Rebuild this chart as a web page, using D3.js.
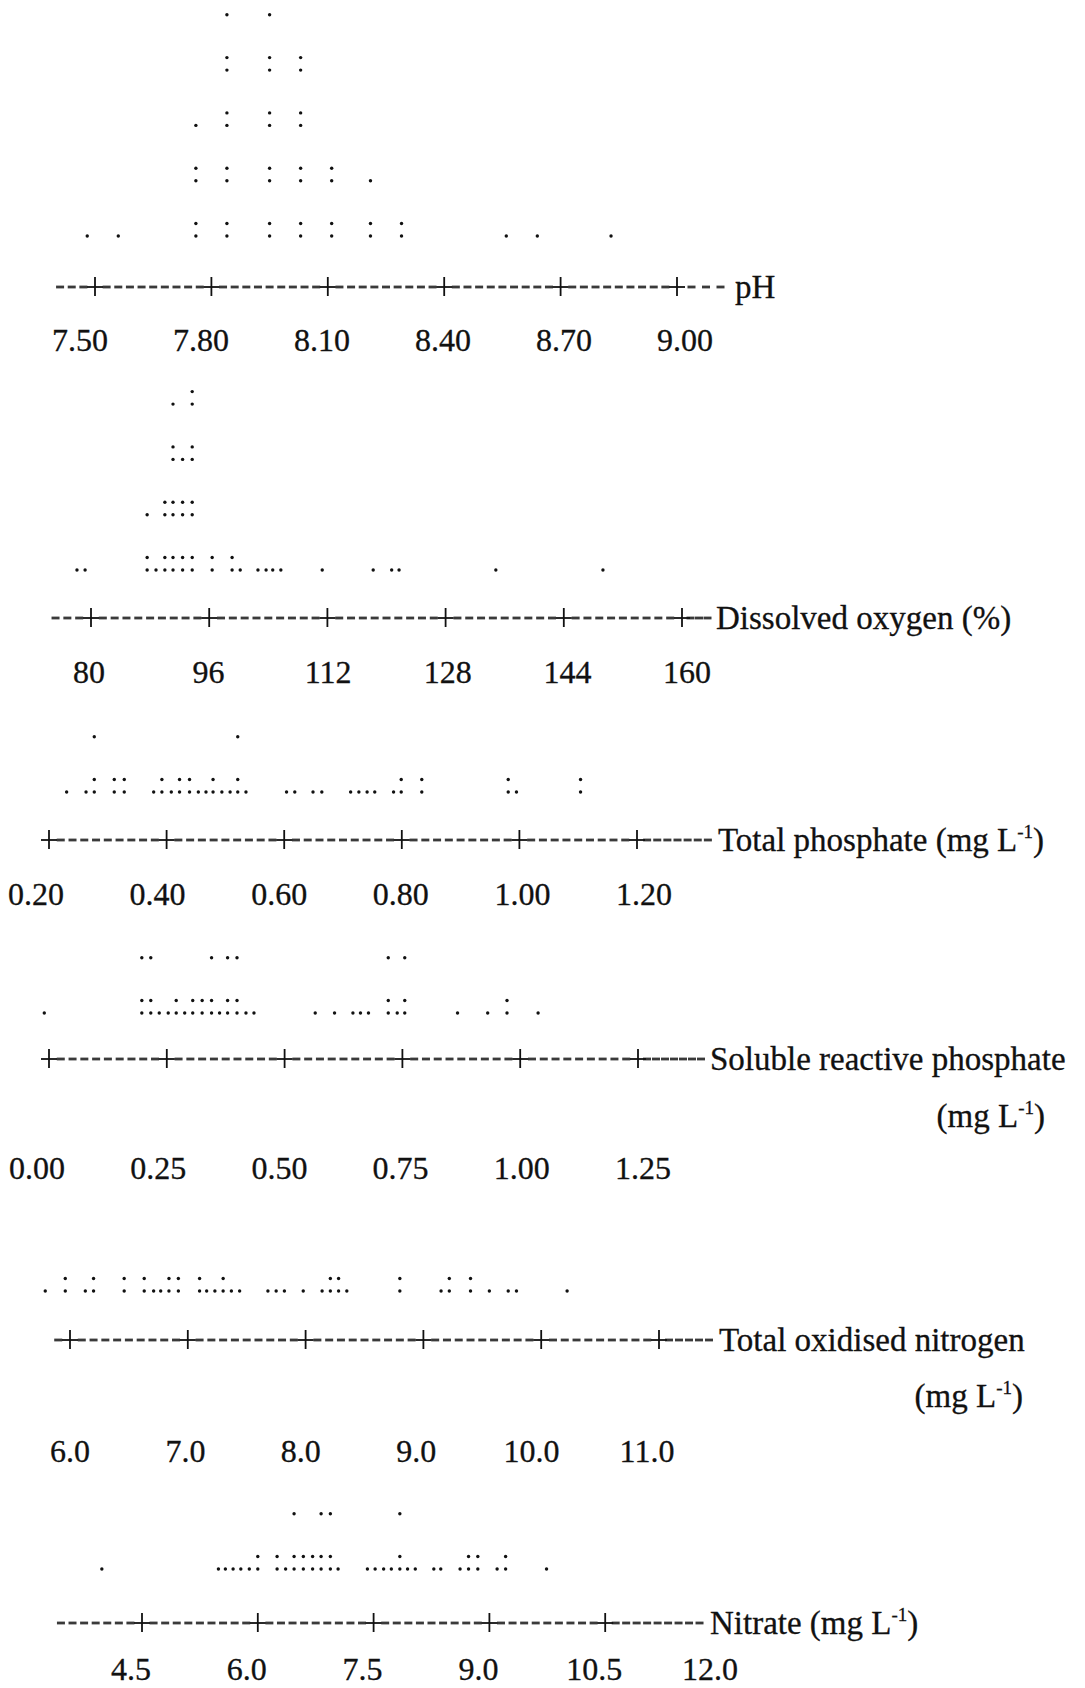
<!DOCTYPE html>
<html><head><meta charset="utf-8">
<script src="https://cdn.jsdelivr.net/npm/d3@7"></script>
<style>body{margin:0;background:#fff}svg{display:block}</style>
</head><body>
<svg id="chart" width="1085" height="1688"></svg>
<script>
// ---------------- data (column value -> number of observations) ----------------
const phTicks = [7.5, 7.8, 8.1, 8.4, 8.7, 9.0];
const phTickLabels = ["7.50", "7.80", "8.10", "8.40", "8.70", "9.00"];
const phValues = [7.48, 7.56, 7.76, 7.84, 7.95, 8.03, 8.11, 8.21, 8.29, 8.56, 8.64, 8.83];
const phCounts = [1, 1, 5, 9, 9, 8, 4, 3, 2, 1, 1, 1];

const doTicks = [80, 96, 112, 128, 144, 160];
const doTickLabels = ["80", "96", "112", "128", "144", "160"];
const doValues = [78.1, 79.2, 87.6, 88.8, 90.0, 91.1, 92.4, 93.7, 96.4, 99.1, 100.2, 102.6, 103.7, 104.6, 105.7, 111.3, 118.2, 120.7, 121.7, 134.8, 149.3];
const doCounts = [1, 1, 3, 1, 4, 7, 5, 8, 2, 2, 1, 1, 1, 1, 1, 1, 1, 1, 1, 1, 1];

const tpTicks = [0.2, 0.4, 0.6, 0.8, 1.0, 1.2];
const tpTickLabels = ["0.20", "0.40", "0.60", "0.80", "1.00", "1.20"];
const tpValues = [0.230, 0.263, 0.277, 0.311, 0.328, 0.378, 0.392, 0.408, 0.422, 0.439, 0.454, 0.467, 0.479, 0.494, 0.508, 0.521, 0.535, 0.604, 0.618, 0.649, 0.664, 0.713, 0.727, 0.741, 0.754, 0.786, 0.799, 0.834, 0.981, 0.995, 1.104];
const tpCounts = [1, 1, 3, 2, 2, 1, 2, 1, 2, 2, 1, 1, 2, 1, 1, 3, 1, 1, 1, 1, 1, 1, 1, 1, 1, 1, 2, 2, 2, 1, 2];

const srpTicks = [0.0, 0.25, 0.5, 0.75, 1.0, 1.25];
const srpTickLabels = ["0.00", "0.25", "0.50", "0.75", "1.00", "1.25"];
const srpValues = [-0.01, 0.197, 0.216, 0.234, 0.253, 0.270, 0.288, 0.305, 0.325, 0.345, 0.362, 0.379, 0.399, 0.418, 0.435, 0.565, 0.606, 0.645, 0.661, 0.678, 0.720, 0.739, 0.755, 0.867, 0.931, 0.972, 1.038];
const srpCounts = [1, 3, 3, 1, 1, 2, 1, 2, 2, 3, 1, 3, 3, 1, 1, 1, 1, 1, 1, 1, 3, 1, 3, 1, 1, 2, 1];

const tonTicks = [6.0, 7.0, 8.0, 9.0, 10.0, 11.0];
const tonTickLabels = ["6.0", "7.0", "8.0", "9.0", "10.0", "11.0"];
const tonValues = [5.79, 5.96, 6.13, 6.20, 6.46, 6.63, 6.71, 6.77, 6.84, 6.92, 7.10, 7.16, 7.23, 7.30, 7.37, 7.44, 7.68, 7.75, 7.82, 7.98, 8.14, 8.21, 8.28, 8.35, 8.80, 9.15, 9.22, 9.40, 9.56, 9.72, 9.79, 10.22];
const tonCounts = [1, 2, 1, 2, 2, 2, 1, 1, 2, 2, 2, 1, 1, 2, 1, 1, 1, 1, 1, 1, 1, 2, 2, 1, 2, 1, 2, 2, 1, 1, 1, 1];

const no3Ticks = [4.5, 6.0, 7.5, 9.0, 10.5, 12.0];
const no3TickLabels = ["4.5", "6.0", "7.5", "9.0", "10.5", "12.0"];
const no3Values = [3.98, 5.49, 5.58, 5.68, 5.78, 5.89, 6.00, 6.25, 6.36, 6.47, 6.59, 6.71, 6.82, 6.94, 7.04, 7.42, 7.52, 7.63, 7.73, 7.84, 7.94, 8.04, 8.28, 8.37, 8.62, 8.73, 8.85, 9.10, 9.21, 9.74];
const no3Counts = [1, 1, 1, 1, 1, 1, 2, 2, 1, 3, 2, 2, 3, 3, 1, 1, 1, 1, 1, 3, 1, 1, 1, 1, 1, 2, 2, 1, 2, 1];

// ---------------- layout ----------------
const FONT = "'Liberation Serif', 'Times New Roman', serif";
const LABEL_FS = 32;
const TITLE_FS = 33;
const ROW = 55.3;      // text line spacing of dot rows
const COLON = 12.5;    // gap between the two dots of ':'

const panels = [
  {ticks: phTicks, labels: phTickLabels, values: phValues, counts: phCounts,
   range: [95, 677], labelRange: [80, 685], plus: 6, lead: 3, trail: 3,
   baseY: 236, axisY: 287, labelY: 351, titleX: 735,
   title: {t: "pH"}},
  {ticks: doTicks, labels: doTickLabels, values: doValues, counts: doCounts,
   range: [91, 682], labelRange: [89, 687], plus: 6, lead: 3, trail: 3,
   baseY: 570, axisY: 618, labelY: 683, titleX: 716,
   title: {t: "Dissolved oxygen (%)"}},
  {ticks: tpTicks, labels: tpTickLabels, values: tpValues, counts: tpCounts,
   range: [49, 637], labelRange: [36, 644], plus: 6, lead: 0, trail: 7,
   baseY: 792, axisY: 840, labelY: 905, titleX: 718,
   title: {t: "Total phosphate (mg L", sup: "-1", end: ")"}},
  {ticks: srpTicks, labels: srpTickLabels, values: srpValues, counts: srpCounts,
   range: [49, 638], labelRange: [37, 643], plus: 6, lead: 0, trail: 7,
   baseY: 1013, axisY: 1059, labelY: 1179, titleX: 710,
   title: {t: "Soluble reactive phosphate"},
   title2: {t: "(mg L", sup: "-1", end: ")", x: 1045, y: 1127}},
  {ticks: tonTicks, labels: tonTickLabels, values: tonValues, counts: tonCounts,
   range: [70, 659], labelRange: [70, 647], plus: 6, lead: 1, trail: 5,
   baseY: 1291, axisY: 1340, labelY: 1462, titleX: 719,
   title: {t: "Total oxidised nitrogen"},
   title2: {t: "(mg L", sup: "-1", end: ")", x: 1023, y: 1407}},
  {ticks: no3Ticks, labels: no3TickLabels, values: no3Values, counts: no3Counts,
   range: [142, 721], labelRange: [131, 710], plus: 5, lead: 7, trail: 9,
   baseY: 1569, axisY: 1623, labelY: 1680, titleX: 710,
   title: {t: "Nitrate (mg L", sup: "-1", end: ")"}}
];

const svg = d3.select("#chart");

function addTitle(sel, spec) {
  sel.append("tspan").text(spec.t);
  if (spec.sup) {
    sel.append("tspan").attr("font-size", 19).attr("dy", -13).text(spec.sup);
    sel.append("tspan").attr("dy", 13).text(spec.end);
  }
}

panels.forEach((p, pi) => {
  const g = svg.append("g").attr("class", "panel-" + pi);
  const dom = [p.ticks[0], p.ticks[p.ticks.length - 1]];
  const x = d3.scaleLinear().domain(dom).range(p.range);          // axis row
  const xl = d3.scaleLinear().domain(dom).range(p.labelRange);    // label row
  const step = (p.ticks[1] - p.ticks[0]) / 10;

  // dots: each observation is one dot; ':' = two stacked, '.' = one
  const pts = [];
  p.values.forEach((v, i) => {
    for (let j = 0; j < p.counts[i]; j++) pts.push({v, row: Math.floor(j / 2), up: j % 2});
  });
  g.selectAll("circle.dot").data(pts).join("circle")
    .attr("class", "dot")
    .attr("cx", d => x(d.v))
    .attr("cy", d => p.baseY - d.row * ROW - d.up * COLON)
    .attr("r", 1.7)
    .attr("fill", "#111");

  // axis line built from dashes and '+' marks
  const plusTicks = p.ticks.slice(0, p.plus);
  const lastPlus = plusTicks[plusTicks.length - 1];
  const nTotal = Math.round((lastPlus - p.ticks[0]) / step);
  const dashX = [];
  for (let k = -p.lead; k <= nTotal; k++) {
    if (k >= 0 && k % 10 === 0) continue;
    dashX.push(x(p.ticks[0] + k * step));
  }
  const trailGap = (p.titleX - x(lastPlus)) / (p.trail + 1);
  for (let k = 1; k <= p.trail; k++) dashX.push(x(lastPlus) + k * trailGap);

  g.selectAll("rect.dash").data(dashX).join("rect")
    .attr("class", "dash")
    .attr("x", d => d - 4).attr("y", p.axisY - 1.4)
    .attr("width", 8).attr("height", 2.8)
    .attr("fill", "#3a3a3a");
  const pl = g.selectAll("g.plus").data(plusTicks).join("g")
    .attr("class", "plus")
    .attr("transform", d => `translate(${x(d)},${p.axisY})`);
  pl.append("line").attr("x1", -8).attr("x2", 8).attr("y1", 0).attr("y2", 0)
    .attr("stroke", "#111").attr("stroke-width", 1.8);
  pl.append("line").attr("x1", 0).attr("x2", 0).attr("y1", -10).attr("y2", 9)
    .attr("stroke", "#111").attr("stroke-width", 1.8);

  // tick labels
  g.selectAll("text.tick").data(p.ticks).join("text")
    .attr("class", "tick")
    .attr("x", d => xl(d)).attr("y", p.labelY)
    .attr("text-anchor", "middle")
    .attr("font-family", FONT).attr("font-size", LABEL_FS)
    .attr("fill", "#111").attr("stroke", "#111").attr("stroke-width", 0.3)
    .text((d, i) => p.labels[i]);

  // axis title
  const t = g.append("text").attr("x", p.titleX).attr("y", p.axisY + 11)
    .attr("font-family", FONT).attr("font-size", TITLE_FS)
    .attr("fill", "#111").attr("stroke", "#111").attr("stroke-width", 0.3);
  addTitle(t, p.title);
  if (p.title2) {
    const t2 = g.append("text").attr("x", p.title2.x).attr("y", p.title2.y)
      .attr("text-anchor", "end")
      .attr("font-family", FONT).attr("font-size", TITLE_FS)
      .attr("fill", "#111").attr("stroke", "#111").attr("stroke-width", 0.3);
    addTitle(t2, p.title2);
  }
});
</script>
</body></html>
